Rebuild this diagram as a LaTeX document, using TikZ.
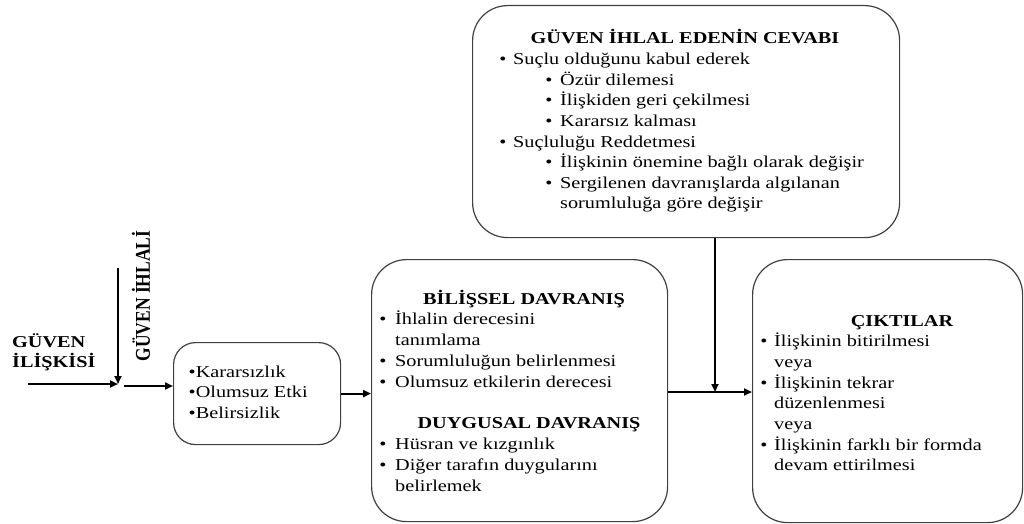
\documentclass[tikz,border=0pt]{standalone}
\usepackage{fontspec}
\setmainfont{Liberation Serif}[FakeStretch=1.22]
\newfontfamily\uprightlabel{Liberation Serif}
\usetikzlibrary{arrows.meta}
\begin{document}
\begin{tikzpicture}[x=1pt,y=-1pt,
  panel/.style={draw=black!75, line width=1.2pt, rounded corners=35pt,
                anchor=north west, inner sep=0pt},
  link/.style={line width=2pt, -{Triangle[length=8pt,width=7pt]}},
  txt/.style={anchor=base west, inner sep=0pt, font=\fontsize{16.6}{20}\selectfont},
  dot/.style={anchor=base, inner sep=0pt, font=\fontsize{16.6}{20}\selectfont},
  head/.style={anchor=base, inner sep=0pt, font=\fontsize{16.6}{20}\selectfont\bfseries},
  side/.style={anchor=base west, inner sep=0pt, font=\fontsize{16.6}{20}\selectfont\bfseries}]
\useasboundingbox (0,0) rectangle (1024,524);

% ---- boxes ----
\node[panel, minimum width=427pt, minimum height=232pt] (resp)  at (472,5)   {};
\node[panel, rounded corners=22pt, minimum width=167pt, minimum height=102pt] (state) at (173,342) {};
\node[panel, minimum width=296pt, minimum height=262pt] (behav) at (371,259) {};
\node[panel, minimum width=270pt, minimum height=263pt] (out)   at (752,259) {};

% ---- left labels ----
\node[side] (rel1) at (12,347) {GÜVEN};
\node[side] (rel2) at (12,367) {İLİŞKİSİ};
\node[rotate=90, yscale=1.2, inner sep=0pt,
      font=\uprightlabel\fontsize{17.5}{20}\selectfont\bfseries] (breach) at (141,296) {GÜVEN İHLALİ};

% ---- response of the violator ----
\node[head] (respT) at (685,44) {GÜVEN İHLAL EDENİN CEVABI};
\node[dot] (rb1) at (503,65)   {\textbullet};  \node[txt] (rt1) at (513,65)   {Suçlu olduğunu kabul ederek};
\node[dot] (rb2) at (549,85.5) {\textbullet};  \node[txt] (rt2) at (560,85.5) {Özür dilemesi};
\node[dot] (rb3) at (549,106)  {\textbullet};  \node[txt] (rt3) at (560,106)  {İlişkiden geri çekilmesi};
\node[dot] (rb4) at (549,126.5){\textbullet};  \node[txt] (rt4) at (560,126.5){Kararsız kalması};
\node[dot] (rb5) at (503,147)  {\textbullet};  \node[txt] (rt5) at (513,147)  {Suçluluğu Reddetmesi};
\node[dot] (rb6) at (549,167.5){\textbullet};  \node[txt] (rt6) at (560,167.5){İlişkinin önemine bağlı olarak değişir};
\node[dot] (rb7) at (549,188)  {\textbullet};  \node[txt] (rt7) at (560,188)  {Sergilenen davranışlarda algılanan};
\node[txt] (rt8) at (560,208.5){sorumluluğa göre değişir};

% ---- initial state ----
\node[txt] (st1) at (188.5,377)   {\textbullet Kararsızlık};
\node[txt] (st2) at (188.5,397.5) {\textbullet Olumsuz Etki};
\node[txt] (st3) at (188.5,418)   {\textbullet Belirsizlik};

% ---- cognitive / emotional behaviour ----
\node[head] (cogT) at (524,304) {BİLİŞSEL DAVRANIŞ};
\node[dot] (cb1) at (383,324.8) {\textbullet}; \node[txt] (ct1) at (395,324.8) {İhlalin derecesini};
\node[txt] (ct2) at (395,345.6) {tanımlama};
\node[dot] (cb3) at (383,366.4) {\textbullet}; \node[txt] (ct3) at (395,366.4) {Sorumluluğun belirlenmesi};
\node[dot] (cb4) at (383,387.2) {\textbullet}; \node[txt] (ct4) at (395,387.2) {Olumsuz etkilerin derecesi};
\node[head] (emoT) at (529,428.8) {DUYGUSAL DAVRANIŞ};
\node[dot] (eb1) at (383,449.6) {\textbullet}; \node[txt] (et1) at (395,449.6) {Hüsran ve kızgınlık};
\node[dot] (eb2) at (383,470.4) {\textbullet}; \node[txt] (et2) at (395,470.4) {Diğer tarafın duygularını};
\node[txt] (et3) at (395,491.2) {belirlemek};

% ---- outcomes ----
\node[head] (outT) at (902,326) {ÇIKTILAR};
\node[dot] (ob1) at (764,346.7) {\textbullet}; \node[txt] (ot1) at (774,346.7) {İlişkinin bitirilmesi};
\node[txt] (ot2) at (774,367.4) {veya};
\node[dot] (ob3) at (764,388.1) {\textbullet}; \node[txt] (ot3) at (774,388.1) {İlişkinin tekrar};
\node[txt] (ot4) at (774,408.8) {düzenlenmesi};
\node[txt] (ot5) at (774,429.5) {veya};
\node[dot] (ob6) at (764,450.2) {\textbullet}; \node[txt] (ot6) at (774,450.2) {İlişkinin farklı bir formda};
\node[txt] (ot7) at (774,470.9) {devam ettirilmesi};

% ---- connectors ----
\coordinate (relstart)  at (28,384);
\coordinate (join)      at (118,384);
\coordinate (breachtop) at (118,268);
\coordinate (joinout)   at (124,386);
\coordinate (merge)     at (715,392);
\draw[link] (relstart) -- (join);
\draw[link] (breachtop) -- (join);
\draw[link] (joinout) -- (joinout -| state.west);
\draw[link] (state.east) -- (state.east -| behav.west);
\draw[link] (behav.east |- merge) -- (merge -| out.west);
\draw[link] (merge |- resp.south) -- (merge);
\end{tikzpicture}
\end{document}
